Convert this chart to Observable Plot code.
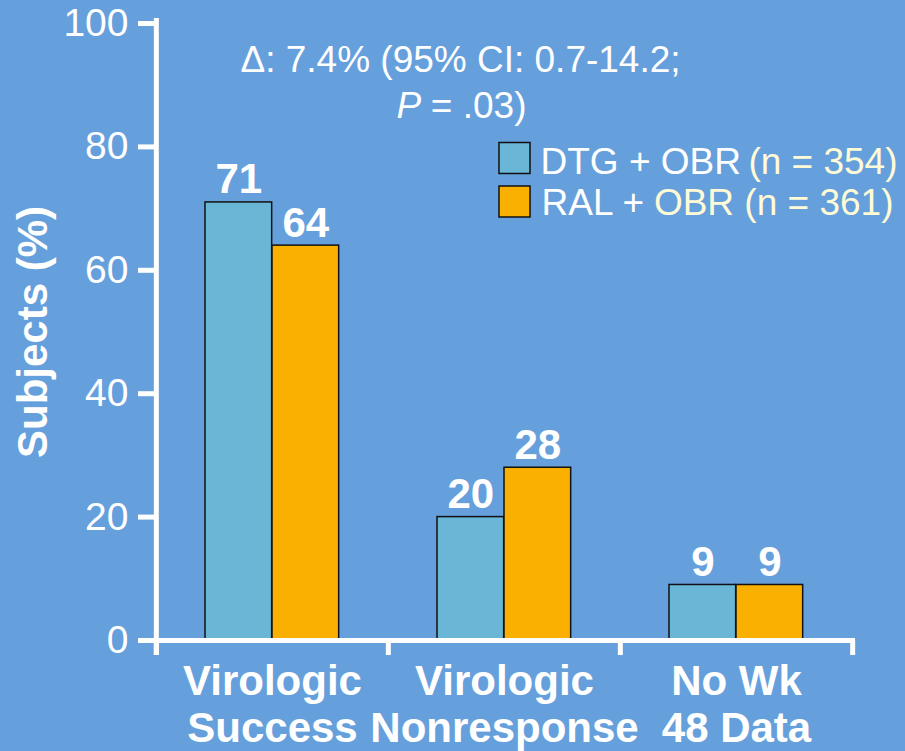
<!DOCTYPE html>
<html><head><meta charset="utf-8">
<script src="https://cdn.jsdelivr.net/npm/d3@7"></script>
<script src="https://cdn.jsdelivr.net/npm/@observablehq/plot@0.6"></script>
<style>
html,body{margin:0;padding:0;background:#66a0dc;}
</style></head><body><div id="chart"></div>
<script>
const categories = ["Virologic\nSuccess", "Virologic\nNonresponse", "No Wk\n48 Data"];
const seriesNames = ["DTG + OBR", "RAL + OBR"];
const dtgValues = [71, 20, 9];
const ralValues = [64, 28, 9];
const yTicks = [0, 20, 40, 60, 80, 100];
const legendPlain = ["DTG + OBR", "RAL +"];
const legendHighlights = ["(n = 354)", "OBR (n = 361)"];
const annotationLine1 = "Δ: 7.4% (95% CI: 0.7-14.2;";
const annotationP = "P";
const annotationRest = "= .03)";
const yLabel = "Subjects (%)";

const colors = {"DTG + OBR": "#69b6d6", "RAL + OBR": "#f9b000"};
const W = 905, H = 751, mL = 155, mR = 53, mT = 23, mB = 111;
const bw = (W - mL - mR) / categories.length;
const barW = 67, outer = 49;

const dtgRows = categories.map((c, i) => ({category: c, series: seriesNames[0], value: dtgValues[i]}));
const ralRows = categories.map((c, i) => ({category: c, series: seriesNames[1], value: ralValues[i]}));
const font = "'Liberation Sans', Arial, sans-serif";

const chart = Plot.plot({
  width: W, height: H,
  marginLeft: mL, marginRight: mR, marginTop: mT, marginBottom: mB,
  style: {background: "#66a0dc", color: "white", fontFamily: font},
  x: {domain: categories, padding: 0, axis: null},
  y: {domain: [0, 100], axis: null},
  marks: [
    Plot.barY(dtgRows, {x: "category", y: "value", fill: d => colors[d.series], stroke: "#111", strokeWidth: 1.5,
      insetLeft: outer, insetRight: bw - outer - barW}),
    Plot.barY(ralRows, {x: "category", y: "value", fill: d => colors[d.series], stroke: "#111", strokeWidth: 1.5,
      insetLeft: outer + barW, insetRight: bw - outer - 2 * barW}),
    Plot.text(dtgRows, {x: "category", y: "value", text: d => String(d.value), dx: -(bw / 2 - outer - barW / 2), dy: -9,
      lineAnchor: "bottom", fontSize: 42, fontWeight: "bold", fill: "white"}),
    Plot.text(ralRows, {x: "category", y: "value", text: d => String(d.value), dx: outer + barW * 1.5 - bw / 2, dy: -9,
      lineAnchor: "bottom", fontSize: 42, fontWeight: "bold", fill: "white"}),
    Plot.axisY({ticks: yTicks, tickSize: 17, tickPadding: 10, fontSize: 39, strokeWidth: 5, label: null}),
    Plot.ruleX([categories[0]], {dx: -bw / 2, stroke: "white", strokeWidth: 5, insetTop: -5, insetBottom: -15}),
    Plot.ruleY([0], {stroke: "white", strokeWidth: 5, insetRight: -3}),
    Plot.axisX({tickSize: 15, strokeWidth: 5, tickFormat: () => "", dx: -bw / 2, label: null}),
    Plot.axisX({ticks: [categories[categories.length - 1]], tickSize: 15, strokeWidth: 5, tickFormat: () => "", dx: bw / 2, label: null}),
    Plot.text(categories, {x: d => d, frameAnchor: "bottom", lineAnchor: "top", dy: 22, lineHeight: 1.1,
      fontSize: 42, fontWeight: "bold", fill: "white"}),
    Plot.text([yLabel], {frameAnchor: "left", textAnchor: "middle", lineAnchor: "middle", rotate: -90, dx: 33 - mL,
      fontSize: 42, fontWeight: "bold", fill: "white"}),
    Plot.text([annotationLine1], {frameAnchor: "top-left", textAnchor: "middle", lineAnchor: "top", dx: 460 - mL, dy: 22, fontSize: 37, fill: "white"}),
    Plot.text([annotationP], {frameAnchor: "top-left", lineAnchor: "top", dx: 396 - mL, dy: 68, textAnchor: "start", fontSize: 37, fontStyle: "italic", fill: "white"}),
    Plot.text([annotationRest], {frameAnchor: "top-left", lineAnchor: "top", dx: 526 - mL, dy: 68, textAnchor: "end", fontSize: 37, fill: "white"}),
    Plot.dot([seriesNames[0]], {frameAnchor: "top-left", dx: 359, dy: 134.5, symbol: "square", r: 17.5, fill: d => colors[d], stroke: "#111", strokeWidth: 1.5}),
    Plot.dot([seriesNames[1]], {frameAnchor: "top-left", dx: 359, dy: 178, symbol: "square", r: 17.5, fill: d => colors[d], stroke: "#111", strokeWidth: 1.5}),
    Plot.text([legendPlain[0]], {frameAnchor: "top-left", lineAnchor: "top", dx: 540 - mL, dy: 124, textAnchor: "start", fontSize: 37, fill: "white"}),
    Plot.text([legendHighlights[0]], {frameAnchor: "top-left", lineAnchor: "top", dx: 897 - mL, dy: 124, textAnchor: "end", fontSize: 37, fill: "#fffbd6"}),
    Plot.text([legendPlain[1]], {frameAnchor: "top-left", lineAnchor: "top", dx: 541 - mL, dy: 165, textAnchor: "start", fontSize: 37, fill: "white"}),
    Plot.text([legendHighlights[1]], {frameAnchor: "top-left", lineAnchor: "top", dx: 893 - mL, dy: 165, textAnchor: "end", fontSize: 37, fill: "#fffbd6"})
  ]
});
document.getElementById("chart").appendChild(chart);
</script>
</body></html>
